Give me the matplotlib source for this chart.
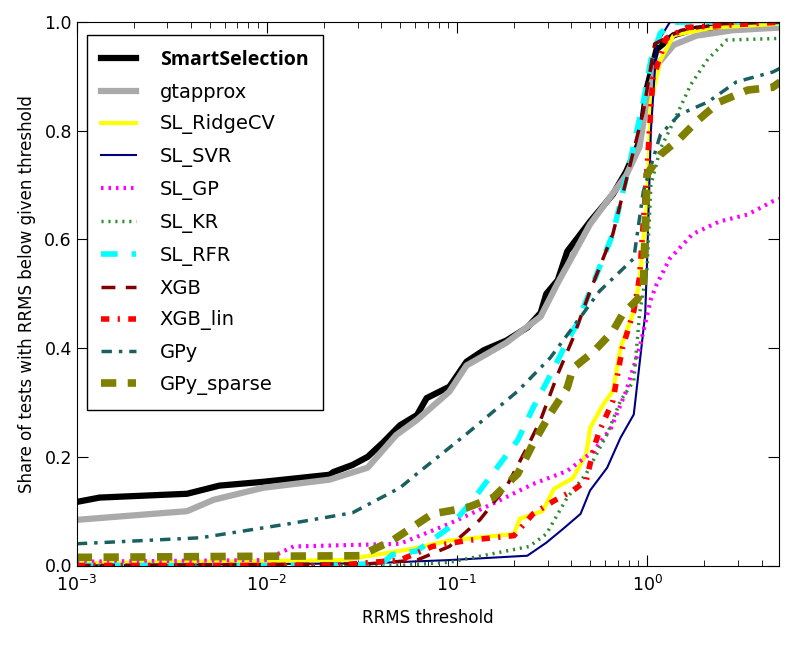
import numpy as np
import matplotlib
matplotlib.use("Agg")
import matplotlib.pyplot as plt

# thresholds are kept as log10 values, curves as share of tests
smart_lx = [-3, -2.88, -2.42, -2.25, -2.02, -1.67, -1.65, -1.55, -1.47, -1.39, -1.30, -1.21, -1.16,
            -1.04, -0.95, -0.86, -0.74, -0.63, -0.56, -0.53, -0.47, -0.42, -0.30, -0.18, -0.11,
            -0.04, 0.0, 0.05, 0.14, 0.26, 0.70]
smart_y = [0.117, 0.125, 0.132, 0.147, 0.154, 0.167, 0.172, 0.185, 0.200, 0.226, 0.258, 0.277, 0.308,
           0.329, 0.375, 0.396, 0.414, 0.438, 0.465, 0.50, 0.525, 0.578, 0.633, 0.683, 0.725,
           0.78, 0.88, 0.95, 0.976, 0.988, 0.995]

gt_lx = [-3, -2.42, -2.28, -2.02, -1.67, -1.47, -1.32, -1.21, -1.04, -0.95, -0.74, -0.56, -0.47,
         -0.30, -0.11, -0.04, 0.0, 0.05, 0.14, 0.26, 0.45, 0.70]
gt_y = [0.084, 0.100, 0.121, 0.143, 0.158, 0.180, 0.240, 0.268, 0.320, 0.368, 0.410, 0.458, 0.520,
        0.628, 0.718, 0.770, 0.860, 0.920, 0.958, 0.975, 0.985, 0.990]

ridge_lx = [-3, -1.60, -1.23, -1.04, -0.70, -0.67, -0.55, -0.49, -0.39, -0.32, -0.30, -0.23, -0.18,
            -0.14, -0.07, -0.04, 0.0, 0.02, 0.07, 0.14, 0.35, 0.70]
ridge_y = [0.004, 0.010, 0.031, 0.046, 0.058, 0.086, 0.100, 0.141, 0.161, 0.205, 0.253, 0.297, 0.321,
           0.400, 0.468, 0.523, 0.670, 0.853, 0.930, 0.976, 0.990, 0.997]

svr_lx = [-3, -1.47, -1.04, -0.63, -0.53, -0.44, -0.35, -0.30, -0.21, -0.14, -0.07, -0.04, -0.01,
          0.0, 0.02, 0.05, 0.12, 0.70]
svr_y = [0.0, 0.004, 0.010, 0.018, 0.042, 0.068, 0.095, 0.138, 0.180, 0.235, 0.278, 0.370, 0.462,
         0.560, 0.800, 0.960, 1.0, 1.0]

gp_lx = [-3, -2.0, -1.95, -1.86, -1.30, -1.04, -0.81, -0.60, -0.42, -0.28, -0.19, -0.11, -0.04,
         0.02, 0.05, 0.12, 0.24, 0.38, 0.53, 0.66, 0.70]
gp_y = [0.007, 0.010, 0.020, 0.035, 0.040, 0.077, 0.114, 0.150, 0.174, 0.211, 0.253, 0.321, 0.400,
        0.490, 0.517, 0.565, 0.610, 0.633, 0.646, 0.670, 0.675]

kr_lx = [-3, -1.30, -1.04, -0.62, -0.53, -0.42, -0.32, -0.21, -0.14, -0.07, -0.04, 0.0, 0.02,
         0.07, 0.14, 0.23, 0.32, 0.42, 0.70]
kr_y = [0.0, 0.0, 0.006, 0.035, 0.058, 0.125, 0.169, 0.242, 0.303, 0.340, 0.462, 0.547, 0.700,
        0.767, 0.817, 0.885, 0.932, 0.967, 0.970]

rfr_lx = [-3, -1.60, -1.39, -1.34, -1.21, -1.04, -0.92, -0.77, -0.68, -0.60, -0.49, -0.42, -0.37,
          -0.18, -0.09, -0.02, 0.02, 0.07, 0.14, 0.70]
rfr_y = [0.0, 0.0, 0.005, 0.020, 0.027, 0.070, 0.119, 0.189, 0.231, 0.290, 0.363, 0.413, 0.444,
         0.610, 0.743, 0.853, 0.930, 0.980, 1.0, 1.0]

xgb_lx = [-3, -1.47, -1.21, -1.04, -0.88, -0.74, -0.63, -0.56, -0.47, -0.39, -0.30, -0.18, -0.02,
          0.04, 0.18, 0.40, 0.70]
xgb_y = [0.0, 0.003, 0.010, 0.035, 0.084, 0.145, 0.218, 0.268, 0.352, 0.418, 0.505, 0.610, 0.835,
         0.960, 0.985, 0.997, 1.0]

xgbl_lx = [-3, -1.65, -1.30, -1.13, -0.95, -0.70, -0.60, -0.49, -0.39, -0.32, -0.28, -0.25, -0.18,
           -0.13, -0.07, -0.04, 0.0, 0.03, 0.10, 0.21, 0.70]
xgbl_y = [0.0, 0.0, 0.010, 0.035, 0.046, 0.055, 0.095, 0.119, 0.138, 0.156, 0.217, 0.248, 0.303,
          0.400, 0.468, 0.530, 0.732, 0.895, 0.970, 0.990, 1.0]

gpy_lx = [-3, -2.35, -1.88, -1.55, -1.30, -1.21, -0.95, -0.68, -0.51, -0.34, -0.25, -0.07, -0.02,
          0.07, 0.17, 0.32, 0.47, 0.66, 0.70]
gpy_y = [0.040, 0.051, 0.077, 0.097, 0.143, 0.169, 0.242, 0.321, 0.382, 0.462, 0.505, 0.565, 0.688,
         0.793, 0.830, 0.853, 0.890, 0.908, 0.915]

gpys_lx = [-3, -1.51, -1.34, -1.13, -0.95, -0.81, -0.68, -0.60, -0.51, -0.42, -0.39, -0.28, -0.18,
           -0.13, -0.05, -0.02, 0.0, 0.07, 0.17, 0.26, 0.38, 0.53, 0.66, 0.70]
gpys_y = [0.015, 0.018, 0.046, 0.095, 0.106, 0.125, 0.169, 0.224, 0.279, 0.327, 0.363, 0.394, 0.431,
          0.462, 0.490, 0.510, 0.720, 0.756, 0.785, 0.817, 0.853, 0.875, 0.880, 0.890]

series = [
    ("SmartSelection", smart_lx, smart_y, dict(color="black", lw=4.5, ls="-")),
    ("gtapprox", gt_lx, gt_y, dict(color="#aaaaaa", lw=4.5, ls="-")),
    ("SL_RidgeCV", ridge_lx, ridge_y, dict(color="yellow", lw=3, ls="-")),
    ("SL_SVR", svr_lx, svr_y, dict(color="navy", lw=1.5, ls="-")),
    ("SL_GP", gp_lx, gp_y, dict(color="magenta", lw=3, ls=(0, (0.6, 1.2)))),
    ("SL_KR", kr_lx, kr_y, dict(color="#2e8b2e", lw=2.5, ls=(0, (0.6, 1.4)))),
    ("SL_RFR", rfr_lx, rfr_y, dict(color="cyan", lw=4, ls=(0, (3, 2.5)))),
    ("XGB", xgb_lx, xgb_y, dict(color="#800000", lw=2.5, ls=(0, (4, 3)))),
    ("XGB_lin", xgbl_lx, xgbl_y, dict(color="red", lw=4, ls=(0, (1.5, 1.5, 0.4, 1.5)))),
    ("GPy", gpy_lx, gpy_y, dict(color="#1b6060", lw=2.5, ls=(0, (3, 2, 1, 2)))),
    ("GPy_sparse", gpys_lx, gpys_y, dict(color="#808000", lw=5.5, ls=(0, (2, 1.5)))),
]

fig = plt.figure(figsize=(8, 6.5), dpi=100)
ax = fig.add_axes([0.096, 0.13, 0.878, 0.836])

for name, lx, y, style in series:
    ax.plot(10 ** np.array(lx), y, label=name, **style)

ax.set_xscale("log")
ax.set_xlim(1e-3, 10 ** 0.695)
ax.set_ylim(0, 1)
ax.set_yticks([0, 0.2, 0.4, 0.6, 0.8, 1.0])
ax.set_yticklabels(["0.0", "0.2", "0.4", "0.6", "0.8", "1.0"])
ax.tick_params(which="both", direction="in", top=True, right=True, labelsize=12.5)
ax.tick_params(which="major", length=8)
ax.tick_params(which="minor", length=4)
ax.tick_params(axis="x", pad=7)
ax.set_xlabel("RRMS threshold", fontsize=12, labelpad=10)
ax.set_ylabel("Share of tests with RRMS below given threshold", fontsize=12, labelpad=6)

leg = ax.legend(loc="upper left", fontsize=14, fancybox=False, edgecolor="black",
                framealpha=1, labelspacing=0.66, handlelength=1.8, handletextpad=1.2,
                borderpad=0.75, borderaxespad=0, bbox_to_anchor=(0.0142, 0.976))
leg.get_frame().set_linewidth(1.0)
leg.get_texts()[0].set_fontweight("bold")
leg.get_texts()[0].set_family(["Open Sans", "DejaVu Sans"])

fig.savefig("out.png", dpi=100)
